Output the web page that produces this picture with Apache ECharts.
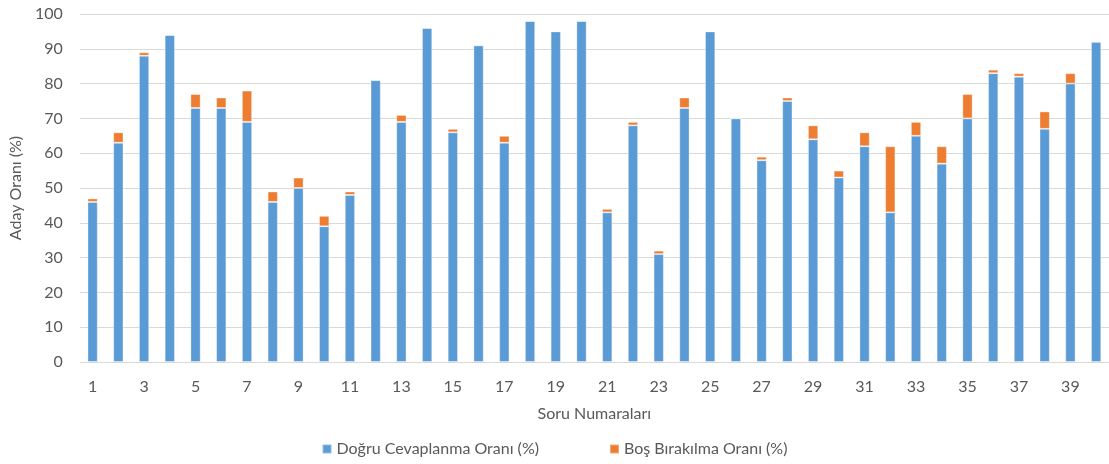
<!DOCTYPE html>
<html>
<head>
<meta charset="utf-8">
<script src="https://cdn.jsdelivr.net/npm/echarts@6/dist/echarts.min.js"></script>
<style>
  html, body { margin: 0; padding: 0; background: #fff; }
  #chart { width: 1109px; height: 464px; }
</style>
</head>
<body>
<div id="chart"></div>
<script>
// soru numaraları 1..40
const questions = ['1','2','3','4','5','6','7','8','9','10','11','12','13','14','15','16','17','18','19','20',
  '21','22','23','24','25','26','27','28','29','30','31','32','33','34','35','36','37','38','39','40'];

// doğru cevaplanma oranı (%)
const correctRate = [46, 63, 88, 94, 73, 73, 69, 46, 50, 39, 48, 81, 69, 96, 66, 91, 63, 98, 95, 98,
  43, 68, 31, 73, 95, 70, 58, 75, 64, 53, 62, 43, 65, 57, 70, 83, 82, 67, 80, 92];

// boş bırakılma oranı (%)
const blankRate = [1, 3, 1, 0, 4, 3, 9, 3, 3, 3, 1, 0, 2, 0, 1, 0, 2, 0, 0, 0,
  1, 1, 1, 3, 0, 0, 1, 1, 4, 2, 4, 19, 4, 5, 7, 1, 1, 5, 3, 0];

const yTicks = [0, 10, 20, 30, 40, 50, 60, 70, 80, 90, 100];

const FONT = 'Lato, "Open Sans", sans-serif';
const TEXT = '#595959';

const chart = echarts.init(document.getElementById('chart'));

const option = {
  animation: false,
  textStyle: { fontFamily: FONT },
  grid: {
    left: 79,
    right: 0,
    top: 14,
    bottom: 102,
  },
  legend: {
    bottom: 2,
    left: 'center',
    itemWidth: 9,
    itemHeight: 9,
    itemGap: 70,
    icon: 'rect',
    textStyle: { color: TEXT, fontSize: 16, fontFamily: FONT },
    data: ['Doğru Cevaplanma Oranı (%)', 'Boş Bırakılma Oranı (%)'],
  },
  xAxis: {
    type: 'category',
    data: questions,
    name: 'Soru Numaraları',
    nameLocation: 'middle',
    nameGap: 44,
    nameTextStyle: { color: TEXT, fontSize: 16 },
    axisLine: { show: false },
    axisTick: { show: false },
    axisLabel: {
      interval: 1,
      color: TEXT,
      fontSize: 16,
      margin: 17,
    },
  },
  yAxis: {
    type: 'value',
    min: yTicks[0],
    max: yTicks[yTicks.length - 1],
    interval: 10,
    name: 'Aday Oranı (%)',
    nameLocation: 'middle',
    nameGap: 52,
    nameTextStyle: { color: TEXT, fontSize: 16 },
    axisLine: { show: false },
    axisTick: { show: false },
    axisLabel: { color: TEXT, fontSize: 16, margin: 17 },
    splitLine: { lineStyle: { color: '#d9d9d9', width: 1 } },
  },
  series: [
    {
      name: 'Doğru Cevaplanma Oranı (%)',
      type: 'bar',
      stack: 'oran',
      barWidth: '40%',
      itemStyle: { color: '#5b9bd5', borderColor: 'rgba(255,255,255,0.35)', borderWidth: 1 },
      data: correctRate,
    },
    {
      name: 'Boş Bırakılma Oranı (%)',
      type: 'bar',
      stack: 'oran',
      barWidth: '40%',
      itemStyle: { color: '#ed7d31', borderColor: 'rgba(255,255,255,0.35)', borderWidth: 1 },
      data: blankRate,
    },
  ],
};

chart.setOption(option);
window.addEventListener('resize', () => chart.resize());
</script>
</body>
</html>
